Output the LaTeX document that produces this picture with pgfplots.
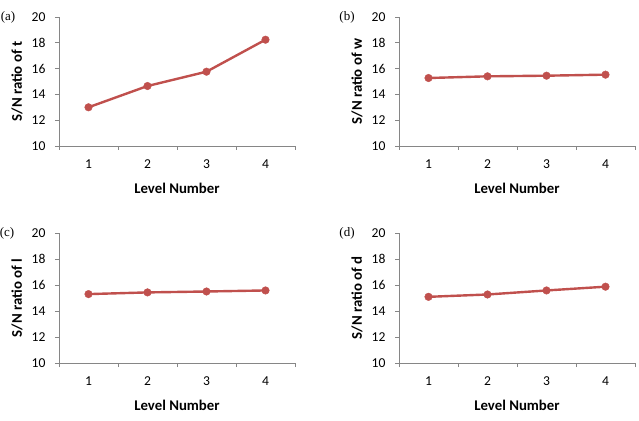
\documentclass[border=0pt]{standalone}
\usepackage{pgfplots}
\pgfplotsset{compat=1.18}
\usepackage{fontspec}
\setmainfont{Carlito}
\newfontfamily\serifpanel{Liberation Serif}
\definecolor{exred}{HTML}{C0504D}
\definecolor{axgrey}{HTML}{868686}
\pgfplotsset{
  panel/.style={
    scale only axis,
    width=236pt, height=129pt,
    anchor=south west,
    xmin=0.5, xmax=4.5, ymin=10, ymax=20,
    xtick={1,2,3,4},
    minor xtick={0.5,1.5,2.5,3.5,4.5},
    ytick={10,12,14,16,18,20},
    major x tick style={draw=none},
    minor tick length=4pt,
    major tick length=4pt,
    tick align=outside,
    axis x line*=bottom, axis y line*=left,
    axis line style={draw=axgrey, line width=0.8pt, -},
    tick style={draw=axgrey, line width=0.8pt},
    every tick label/.style={font=\fontsize{13.6}{15}\selectfont, text=black},
    /pgf/number format/assume math mode=true,
    xticklabel style={yshift=-6pt},
    yticklabel style={xshift=-6pt},
    xlabel={Level Number},
    xlabel style={font=\fontsize{14.8}{16}\selectfont\bfseries, at={([yshift=-42pt]axis description cs:0.5,0)}, anchor=center},
    ylabel style={font=\fontsize{14.8}{16}\selectfont\bfseries, at={([xshift=-42pt]axis description cs:0,0.5)}, anchor=center},
    clip=false,
  },
  ser/.style={color=exred, line width=2.4pt, mark=*, mark size=3.8pt, mark options={solid, fill=exred, draw=exred, line width=0.4pt}},
}
\begin{document}
\begin{tikzpicture}
\useasboundingbox (0,0) rectangle (639pt,420pt);
\begin{axis}[panel, at={(59pt,274pt)}, ylabel={S/N ratio of t}]
\addplot[ser] coordinates {(1,13.0) (2,14.65) (3,15.76) (4,18.24)};
\node[font=\serifpanel\fontsize{13}{15}\selectfont, anchor=center] at ([xshift=-51pt]rel axis cs:0,1) {(a)};
\end{axis}
\begin{axis}[panel, at={(399pt,274pt)}, ylabel={S/N ratio of w}]
\addplot[ser] coordinates {(1,15.27) (2,15.4) (3,15.45) (4,15.53)};
\node[font=\serifpanel\fontsize{13}{15}\selectfont, anchor=center] at ([xshift=-52pt]rel axis cs:0,1) {(b)};
\end{axis}
\begin{axis}[panel, at={(59pt,57pt)}, height=130pt, ylabel={S/N ratio of l}]
\addplot[ser] coordinates {(1,15.3) (2,15.43) (3,15.5) (4,15.58)};
\node[font=\serifpanel\fontsize{13}{15}\selectfont, anchor=center] at ([xshift=-52pt]rel axis cs:0,1) {(c)};
\end{axis}
\begin{axis}[panel, at={(399pt,57pt)}, height=130pt, ylabel={S/N ratio of d}]
\addplot[ser] coordinates {(1,15.09) (2,15.27) (3,15.58) (4,15.87)};
\node[font=\serifpanel\fontsize{13}{15}\selectfont, anchor=center] at ([xshift=-52pt]rel axis cs:0,1) {(d)};
\end{axis}
\end{tikzpicture}
\end{document}
